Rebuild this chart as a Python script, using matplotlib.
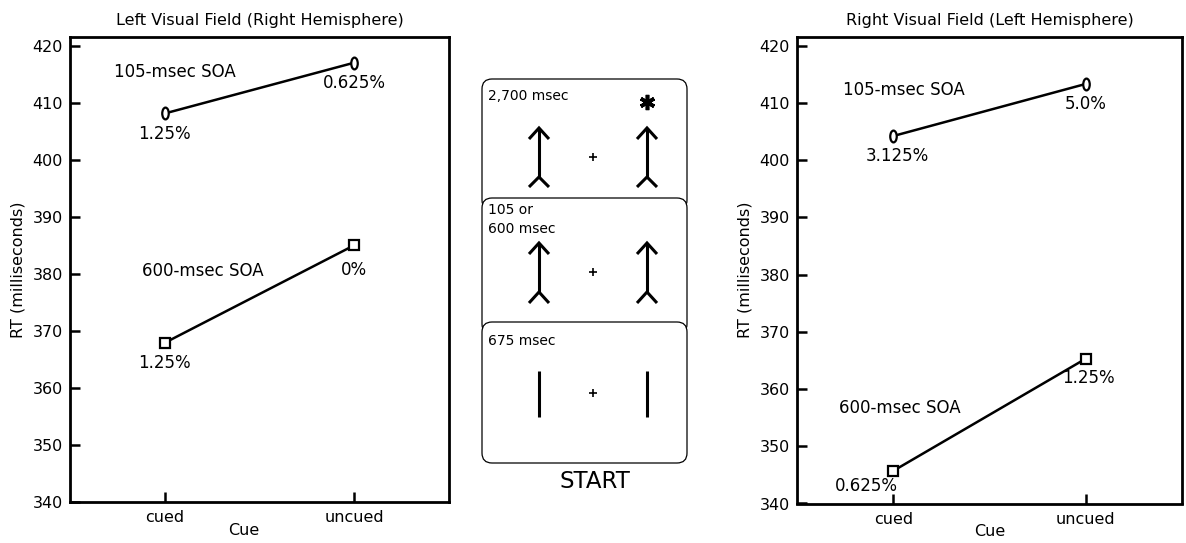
import numpy as np
import matplotlib
matplotlib.use("Agg")
import matplotlib.pyplot as plt
from matplotlib.path import Path
from matplotlib.transforms import Affine2D
from matplotlib.patches import FancyBboxPatch


# DATA

cues = ["cued", "uncued"]

left_105 = [408.1, 417.0]
left_600 = [367.9, 385.0]
left_105_err = ["1.25%", "0.625%"]
left_600_err = ["1.25%", "0%"]

right_105 = [404.2, 413.3]
right_600 = [345.7, 365.3]
right_105_err = ["3.125%", "5.0%"]
right_600_err = ["0.625%", "1.25%"]

y_ticks = [340, 350, 360, 370, 380, 390, 400, 410, 420]

plt.rcParams["font.family"] = ["DejaVu Sans"]

# narrow open ellipse marker ("0" shape)
ELLIPSE = Path.unit_circle().transformed(Affine2D().scale(0.55, 1.0))

FIG_W, FIG_H = 1186, 543
fig = plt.figure(figsize=(FIG_W / 100, FIG_H / 100), dpi=100)


def px_box(x0, y0, x1, y1):
    # pixel box (top-left origin) -> figure fraction rect
    return [x0 / FIG_W, 1 - y1 / FIG_H, (x1 - x0) / FIG_W, (y1 - y0) / FIG_H]


def draw_panel(rect, title, s105, s600, e105, e600, soa_pos, err_offsets, xlab_x):
    ax = fig.add_axes(rect)
    x = np.arange(len(cues))
    ax.plot(x, s105, color="black", lw=1.8, marker=ELLIPSE, ms=8.5,
            mfc="white", mec="black", mew=1.6, zorder=3)
    ax.plot(x, s600, color="black", lw=1.8, marker="s", ms=7.2,
            mfc="white", mec="black", mew=1.6, zorder=3)

    for vals, errs, offs in [(s105, e105, err_offsets[0]), (s600, e600, err_offsets[1])]:
        for xi, v, t, off in zip(x, vals, errs, offs):
            ax.annotate(t, (xi, v), xytext=off, textcoords="offset points",
                        ha="center", va="center", fontsize=12)

    ax.text(*soa_pos[0], "105-msec SOA", ha="left", va="center", fontsize=12)
    ax.text(*soa_pos[1], "600-msec SOA", ha="left", va="center", fontsize=12)

    ax.set_xlim(-0.5, 1.5)
    ax.set_ylim(340, 421.5)
    ax.set_xticks(x)
    ax.set_xticklabels(cues)
    ax.set_yticks(y_ticks)
    ax.tick_params(direction="in", length=7, width=1.8, labelsize=11.5, pad=5)
    ax.tick_params(axis="x", pad=6)
    ax.tick_params(top=False, right=False)
    for sp in ax.spines.values():
        sp.set_linewidth(2.0)

    ax.set_title(title, fontsize=11.5, pad=8.5)
    ax.set_ylabel("RT (milliseconds)", fontsize=11.5, labelpad=5)
    ax.set_xlabel("Cue", fontsize=11.5)
    ax.xaxis.set_label_coords(xlab_x, -0.045)
    return ax


# LEFT PANEL
draw_panel(px_box(70, 37, 449, 502),
           "Left Visual Field (Right Hemisphere)",
           left_105, left_600, left_105_err, left_600_err,
           soa_pos=[(-0.27, 415.4), (-0.12, 380.4)],
           err_offsets=[[(0, -14.5), (0, -14.5)], [(0, -14.5), (0, -18)]],
           xlab_x=0.459)

# RIGHT PANEL
draw_panel(px_box(797, 37, 1182, 503.5),
           "Right Visual Field (Left Hemisphere)",
           right_105, right_600, right_105_err, right_600_err,
           soa_pos=[(-0.26, 412.3), (-0.28, 356.6)],
           err_offsets=[[(3, -14.5), (0, -14.5)], [(-19, -11), (2, -14)]],
           xlab_x=0.5)


# CENTER DIAGRAM (pixel units, y down)

dax = fig.add_axes(px_box(470, 60, 700, 510))
dax.set_xlim(470, 700)
dax.set_ylim(510, 60)
dax.axis("off")

BOX_L, BOX_R = 482, 687
cards = [(79, 210), (198, 334), (322, 463)]
for top, bot in cards:
    dax.add_patch(FancyBboxPatch((BOX_L, top), BOX_R - BOX_L, bot - top,
                                 boxstyle="round,pad=0,rounding_size=10",
                                 fc="white", ec="black", lw=0.9))

ARROW_X = [539, 647]
CROSS_X = 593


def arrow(xc, tip, tail_apex, tail_end):
    kw = dict(color="black", lw=2.2, solid_capstyle="butt", solid_joinstyle="miter")
    dax.plot([xc, xc], [tip, tail_apex], **kw)
    dax.plot([xc - 10, xc, xc + 10], [tip + 11, tip, tip + 11], **kw)
    dax.plot([xc - 10, xc, xc + 10], [tail_end, tail_apex, tail_end], **kw)


# 2,700 msec card
dax.text(488, 96, "2,700 msec", ha="left", va="center", fontsize=10)
dax.plot([647], [102], marker=(6, 2, 0), ms=11, mew=2.6, color="black")
for xc in ARROW_X:
    arrow(xc, 128, 177, 187)
dax.plot([CROSS_X], [157], marker="+", ms=6, mew=1.2, color="black")

# 105 or 600 msec card
dax.text(488, 210, "105 or", ha="left", va="center", fontsize=10)
dax.text(488, 229, "600 msec", ha="left", va="center", fontsize=10)
for xc in ARROW_X:
    arrow(xc, 243, 292, 303)
dax.plot([CROSS_X], [272], marker="+", ms=6, mew=1.2, color="black")

# 675 msec card
dax.text(488, 341, "675 msec", ha="left", va="center", fontsize=10)
for xc in ARROW_X:
    dax.plot([xc, xc], [371, 417], color="black", lw=2.2, solid_capstyle="butt")
dax.plot([CROSS_X], [393], marker="+", ms=6, mew=1.2, color="black")

dax.text(595, 482, "START", ha="center", va="center", fontsize=16.5)

fig.savefig("out.png", dpi=100)
